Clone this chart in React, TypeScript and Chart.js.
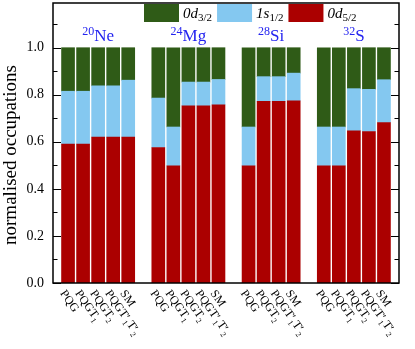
import React, { useEffect, useRef } from "react";
import { Chart, registerables } from "chart.js";

Chart.register(...registerables);

// ---------- data ----------
const nuclei = ["^{20}Ne", "^{24}Mg", "^{28}Si", "^{32}S"];
const methodsNe = ["PQG", "PQGT_1", "PQGT_2", "PQGT'_1T'_2", "SM"];
const methodsMg = ["PQG", "PQGT_1", "PQGT_2", "PQGT'_1T'_2", "SM"];
const methodsSi = ["PQG", "PQGT_2", "PQGT'_1T'_2", "SM"];
const methodsS = ["PQG", "PQGT_1", "PQGT_2", "PQGT'_1T'_2", "SM"];

// occupations of 0d5/2 (bottom), 1s1/2 (middle), 0d3/2 (top)
const d52Ne = [0.59, 0.59, 0.62, 0.62, 0.62];
const d52Mg = [0.576, 0.498, 0.753, 0.753, 0.757];
const d52Si = [0.498, 0.772, 0.772, 0.774];
const d52S = [0.498, 0.498, 0.647, 0.644, 0.682];

const s12Ne = [0.225, 0.225, 0.218, 0.218, 0.242];
const s12Mg = [0.21, 0.165, 0.101, 0.101, 0.108];
const s12Si = [0.165, 0.105, 0.105, 0.118];
const s12S = [0.165, 0.165, 0.179, 0.179, 0.182];

const d32Ne = [0.185, 0.185, 0.162, 0.162, 0.138];
const d32Mg = [0.214, 0.337, 0.146, 0.146, 0.135];
const d32Si = [0.337, 0.123, 0.123, 0.108];
const d32S = [0.337, 0.337, 0.174, 0.177, 0.136];

const seriesNames = ["0d_{5/2}", "1s_{1/2}", "0d_{3/2}"];
const seriesColors = ["#ab0000", "#84c8f0", "#2f5b17"];
const yTickValues = [0, 0.2, 0.4, 0.6, 0.8, 1.0];
const yTitle = "normalised occupations";

const methodGroups = [methodsNe, methodsMg, methodsSi, methodsS];
const d52Groups = [d52Ne, d52Mg, d52Si, d52S];
const s12Groups = [s12Ne, s12Mg, s12Si, s12S];
const d32Groups = [d32Ne, d32Mg, d32Si, d32S];

// build category axis with blank separators
const labels: string[] = [""];
const d52: (number | null)[] = [null];
const s12: (number | null)[] = [null];
const d32: (number | null)[] = [null];
const groupRanges: [number, number][] = [];
methodGroups.forEach((ms, g) => {
  const start = labels.length;
  ms.forEach((m, i) => {
    labels.push(m);
    d52.push(d52Groups[g][i]);
    s12.push(s12Groups[g][i]);
    d32.push(d32Groups[g][i]);
  });
  groupRanges.push([start, labels.length - 1]);
  labels.push("");
  d52.push(null);
  s12.push(null);
  d32.push(null);
});

// ---------- rich text helpers ----------
type Seg = { t: string; k: "n" | "sub" | "sup" };
function parseRich(s: string): Seg[] {
  const out: Seg[] = [];
  let buf = "";
  let i = 0;
  while (i < s.length) {
    const c = s[i];
    if (c === "_" || c === "^") {
      if (buf) out.push({ t: buf, k: "n" });
      buf = "";
      let t = "";
      if (s[i + 1] === "{") {
        const j = s.indexOf("}", i);
        t = s.slice(i + 2, j);
        i = j + 1;
      } else {
        t = s[i + 1];
        i += 2;
      }
      out.push({ t, k: c === "_" ? "sub" : "sup" });
    } else {
      buf += c === "'" ? "\u2032" : c;
      i++;
    }
  }
  if (buf) out.push({ t: buf, k: "n" });
  return out;
}

function richWidth(ctx: CanvasRenderingContext2D, segs: Seg[], big: string, small: string) {
  let w = 0;
  for (const s of segs) {
    ctx.font = s.k === "n" ? big : small;
    w += ctx.measureText(s.t).width;
  }
  return w;
}

function drawRich(
  ctx: CanvasRenderingContext2D,
  segs: Seg[],
  x: number,
  y: number,
  big: string,
  small: string,
  subDy: number,
  supDy: number
) {
  ctx.textAlign = "left";
  ctx.textBaseline = "alphabetic";
  let cx = x;
  for (const s of segs) {
    ctx.font = s.k === "n" ? big : small;
    const dy = s.k === "sub" ? subDy : s.k === "sup" ? -supDy : 0;
    ctx.fillText(s.t, cx, y + dy);
    cx += ctx.measureText(s.t).width;
  }
  return cx - x;
}

const SERIF = "'Liberation Serif', 'Times New Roman', serif";

const decorPlugin = {
  id: "decor",
  beforeDatasetsDraw(chart: any) {
    const ctx: CanvasRenderingContext2D = chart.ctx;
    const { left, right } = chart.chartArea;
    const y = chart.scales.y;
    ctx.save();
    ctx.strokeStyle = "#000";
    ctx.lineWidth = 1.2;
    for (let k = 0; k <= 11; k++) {
      const v = k / 10;
      const py = Math.round(y.getPixelForValue(v)) + 0.5;
      const len = k % 2 === 0 ? 8 : 4.5;
      ctx.beginPath();
      ctx.moveTo(left, py);
      ctx.lineTo(left + len, py);
      ctx.moveTo(right, py);
      ctx.lineTo(right - len, py);
      ctx.stroke();
    }
    ctx.restore();
  },
  afterDatasetsDraw(chart: any) {
    const ctx: CanvasRenderingContext2D = chart.ctx;
    const { left, right, top, bottom } = chart.chartArea;
    const xs = chart.scales.x;
    ctx.save();

    // frame
    ctx.strokeStyle = "#000";
    ctx.lineWidth = 1.5;
    ctx.strokeRect(left, top, right - left, bottom - top);

    // legend (top series first)
    let lx = 144;
    const order = [2, 1, 0];
    for (const si of order) {
      ctx.fillStyle = seriesColors[si];
      ctx.fillRect(lx, 4, 35, 18);
      lx += 35 + 4;
      ctx.fillStyle = "#000";
      const segs = parseRich(seriesNames[si]);
      ctx.textAlign = "left";
      ctx.textBaseline = "alphabetic";
      let w = 0;
      for (const s of segs) {
        ctx.font = s.k === "n" ? `italic 15px ${SERIF}` : `11px ${SERIF}`;
        ctx.fillText(s.t, lx + w, 18 + (s.k === "sub" ? 3 : 0));
        w += ctx.measureText(s.t).width;
      }
      lx += w + 5;
    }

    // group labels
    ctx.fillStyle = "#2323f0";
    groupRanges.forEach(([a, b], g) => {
      const cx = (xs.getPixelForValue(a) + xs.getPixelForValue(b)) / 2;
      const segs = parseRich(nuclei[g]);
      const big = `17px ${SERIF}`;
      const small = `12px ${SERIF}`;
      const w = richWidth(ctx, segs, big, small);
      drawRich(ctx, segs, cx - w / 2, 41, big, small, 0, 6);
    });

    // x labels rotated
    ctx.fillStyle = "#000";
    const ang = (55 * Math.PI) / 180;
    labels.forEach((lab, i) => {
      if (!lab) return;
      const px = xs.getPixelForValue(i);
      ctx.save();
      ctx.translate(px - 1, bottom + 5);
      ctx.rotate(ang);
      drawRich(ctx, parseRich(lab), 0, 9, `12px ${SERIF}`, `8px ${SERIF}`, 3, 4);
      ctx.restore();
    });

    // y title
    ctx.save();
    ctx.translate(11, 155);
    ctx.rotate(-Math.PI / 2);
    ctx.font = `19px ${SERIF}`;
    ctx.textAlign = "center";
    ctx.textBaseline = "middle";
    ctx.fillStyle = "#000";
    ctx.fillText(yTitle, 0, 0);
    ctx.restore();

    ctx.restore();
  },
};

export default function App() {
  const ref = useRef<HTMLCanvasElement>(null);
  useEffect(() => {
    document.body.style.margin = "0";
    const canvas = ref.current!;
    const chart = new Chart(canvas, {
      type: "bar",
      data: {
        labels,
        datasets: [
          { label: seriesNames[0], data: d52, backgroundColor: seriesColors[0] },
          { label: seriesNames[1], data: s12, backgroundColor: seriesColors[1] },
          { label: seriesNames[2], data: d32, backgroundColor: seriesColors[2] },
        ],
      },
      options: {
        animation: false,
        responsive: false,
        devicePixelRatio: 1,
        layout: { padding: { top: 3, right: 16, left: 0, bottom: 0 } },
        datasets: { bar: { barThickness: 13, borderWidth: 0 } } as any,
        plugins: { legend: { display: false }, tooltip: { enabled: false } },
        scales: {
          x: {
            type: "category",
            offset: false,
            stacked: true,
            grid: { display: false, drawTicks: false },
            border: { display: false },
            ticks: { display: false },
            afterFit: (s: any) => {
              s.height = 66;
              s.paddingLeft = 0;
              s.paddingRight = 0;
            },
          },
          y: {
            stacked: true,
            min: 0,
            max: 1.19,
            grid: { display: false, drawTicks: false },
            border: { display: false },
            afterBuildTicks: (s: any) => {
              s.ticks = yTickValues.map((v) => ({ value: v }));
            },
            ticks: {
              font: { family: SERIF, size: 14 },
              color: "#000",
              padding: 9,
              callback: (v: any) => Number(v).toFixed(1),
            },
            afterFit: (s: any) => {
              s.width = 53;
              s.paddingTop = 0;
              s.paddingBottom = 0;
            },
          },
        },
      },
      plugins: [decorPlugin],
    });
    return () => chart.destroy();
  }, []);
  return <canvas ref={ref} width={415} height={349} style={{ display: "block" }} />;
}
